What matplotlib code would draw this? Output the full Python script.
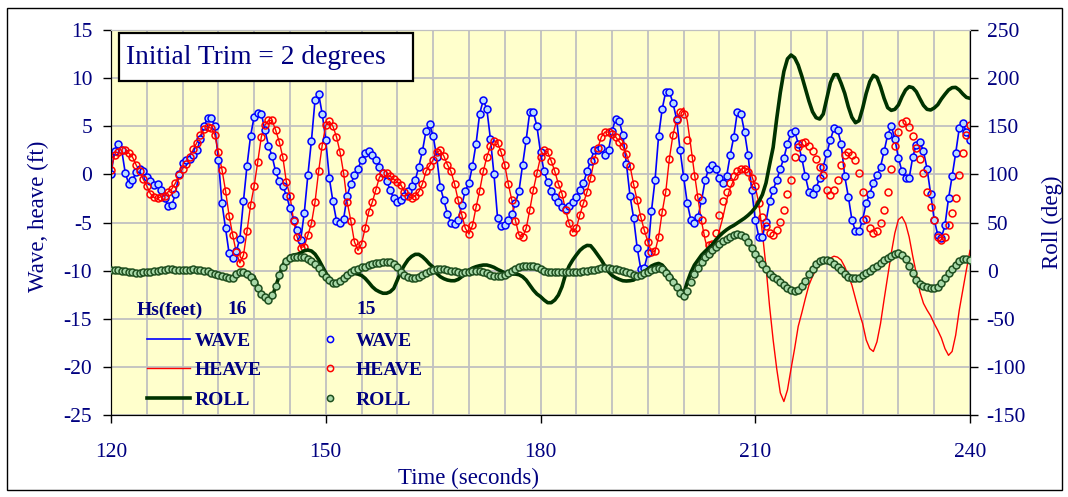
import matplotlib
matplotlib.use("Agg")
import matplotlib.pyplot as plt
import numpy as np
from matplotlib.lines import Line2D
from matplotlib.patches import Rectangle

plt.rcParams['font.family'] = ['Liberation Serif', 'DejaVu Serif']
plt.rcParams['axes.unicode_minus'] = False

NAVY = '#000080'
W, H = 1068, 497

# sample times (s), one sample every 0.5 s
time = np.linspace(120, 240, 241)

# Hs = 15 ft (markers) -- wave and heave in ft, roll in deg
wave = [
    0.0, 2.4, 3.2, 2.5, 0.1, -1.0, -0.6, 0.2, 0.6, 0.4,
    -0.3, -0.7, -1.1, -1.0, -1.6, -2.5, -3.3, -3.2, -2.0, 0.0,
    1.2, 1.5, 1.6, 2.0, 2.5, 3.7, 5.0, 5.9, 5.9, 5.0,
    1.5, -3.0, -5.6, -8.2, -8.7, -8.0, -6.7, -2.8, 0.9, 4.0,
    6.0, 6.4, 6.3, 4.6, 3.0, 1.9, 0.3, -0.7, -1.2, -2.2,
    -3.5, -4.7, -5.8, -6.8, -4.0, -0.1, 3.5, 7.7, 8.4, 6.3,
    3.6, -0.4, -2.8, -4.8, -5.0, -4.6, -2.2, -1.0, -0.1, 0.6,
    1.5, 2.2, 2.4, 2.0, 1.5, 0.8, 0.1, -0.7, -1.6, -2.5,
    -2.9, -2.7, -2.2, -1.7, -1.2, -0.6, 0.8, 2.4, 4.5, 5.2,
    4.0, 1.8, -1.3, -2.7, -4.1, -5.1, -5.2, -4.7, -3.2, -1.7,
    -0.9, 0.9, 3.2, 6.3, 7.7, 6.8, 3.7, 0.0, -4.5, -5.4,
    -5.3, -4.7, -4.1, -3.0, -1.7, 1.0, 3.6, 6.5, 6.5, 5.0,
    2.3, 0.3, -0.8, -1.7, -2.4, -2.9, -3.4, -3.6, -3.3, -2.9,
    -2.3, -1.6, -0.9, 0.3, 1.4, 2.5, 2.5, 2.7, 2.0, 2.5,
    4.5, 5.8, 5.5, 4.1, 1.1, -2.2, -4.5, -7.6, -9.8, -9.7,
    -8.2, -3.8, -0.6, 4.0, 6.8, 8.6, 8.6, 7.4, 5.8, 2.5,
    -0.3, -3.0, -4.7, -5.1, -4.4, -2.7, -0.6, 0.6, 1.0, 0.6,
    -0.4, -0.9, -0.2, 2.0, 3.9, 6.5, 6.3, 4.4, 2.0, -1.6,
    -4.7, -6.5, -6.5, -4.9, -2.8, -1.6, -0.6, 0.6, 1.7, 3.2,
    4.3, 4.5, 3.2, 1.7, -0.2, -1.8, -2.0, -1.4, -0.4, 0.8,
    2.2, 3.6, 4.8, 4.6, 3.2, -0.2, -2.3, -4.7, -5.9, -5.9,
    -4.7, -3.0, -2.0, -0.9, -0.1, 0.8, 2.4, 4.1, 5.0, 3.7,
    1.7, 0.3, -0.4, -0.4, 1.8, 3.1, 3.4, 2.4, 0.6, -2.0,
    -4.7, -6.3, -6.6, -5.3, -2.5, -0.2, 2.2, 4.8, 5.3, 4.4,
    3.6]

heave15 = [
    0.5, 2.0, 2.3, 2.5, 2.5, 2.2, 1.8, 1.0, 0.3, -0.5,
    -1.2, -2.0, -2.4, -2.5, -2.3, -2.2, -1.8, -1.5, -0.9, -0.1,
    0.6, 1.1, 1.8, 2.6, 3.3, 4.1, 4.7, 4.9, 4.8, 4.1,
    2.3, 0.5, -1.7, -4.3, -6.3, -8.1, -9.2, -8.4, -5.9, -3.2,
    -1.2, 1.3, 3.9, 5.1, 5.6, 5.6, 4.6, 3.4, 1.8, -0.8,
    -2.2, -4.8, -6.5, -7.6, -7.5, -6.3, -5.1, -2.9, 0.3, 3.0,
    5.1, 5.5, 5.0, 3.9, 2.3, 0.1, -2.9, -4.8, -7.0, -7.9,
    -7.2, -5.6, -3.9, -2.9, -1.6, -0.3, 0.1, 0.1, -0.2, -0.5,
    -0.8, -1.1, -1.8, -2.2, -2.5, -2.2, -1.8, -1.0, 0.3, 0.9,
    1.5, 2.3, 2.5, 1.9, 1.0, 0.3, -1.0, -2.7, -4.2, -5.6,
    -6.2, -5.3, -3.4, -1.7, 0.3, 1.8, 2.9, 3.5, 3.3, 2.3,
    1.0, -1.0, -2.7, -4.8, -6.3, -6.5, -5.6, -3.7, -1.6, 0.1,
    1.8, 2.5, 2.3, 1.4, 0.3, -1.0, -2.0, -3.7, -5.1, -6.0,
    -5.6, -4.2, -3.0, -1.8, -0.4, 1.5, 2.7, 3.9, 4.4, 4.4,
    4.2, 3.9, 3.4, 2.9, 2.1, 0.9, -1.0, -2.7, -4.4, -5.8,
    -7.0, -8.1, -8.0, -6.5, -3.9, -1.8, 1.6, 4.1, 5.6, 6.5,
    6.3, 3.6, 1.7, -0.2, -2.3, -4.7, -6.1, -7.3, -7.2, -6.1,
    -4.2, -2.8, -1.8, -0.9, -0.2, 0.4, 0.6, 0.6, 0.2, -0.4,
    -1.2, -3.0, -4.4, -5.4, -6.1, -6.3, -5.8, -4.9, -3.7, -2.0,
    -0.6, 1.8, 2.8, 3.3, 3.4, 3.0, 2.4, 1.6, 0.8, -0.1,
    -1.6, -2.1, -1.6, -0.6, 1.0, 2.0, 2.3, 2.0, 1.5, 0.1,
    -1.8, -4.6, -5.6, -6.1, -5.9, -5.0, -3.7, -1.8, 0.6, 2.9,
    4.4, 5.3, 5.5, 4.9, 4.0, 2.7, 1.6, 0.1, -1.8, -3.4,
    -4.7, -6.5, -6.8, -6.5, -5.3, -4.0, -2.5, -0.1, 2.2, 4.1,
    5.1]

roll15 = [
    0.5, 0.5, 0.3, 0.0, -0.3, -1.0, -1.5, -2.0, -2.0, -1.8,
    -1.5, -1.0, -0.5, 0.0, 0.5, 1.0, 1.2, 1.2, 1.0, 0.5,
    0.3, 0.6, 1.0, 1.2, 1.0, 0.5, 0.0, -0.8, -2.0, -3.5,
    -4.8, -6.0, -6.3, -8.0, -7.5, -4.0, -1.5, -1.0, -3.0, -7.0,
    -12.0, -18.4, -24.0, -27.8, -30.5, -25.4, -16.0, -4.6, 4.1, 9.6,
    12.7, 13.8, 14.5, 14.5, 13.8, 12.4, 9.6, 6.5, 3.0, -2.2,
    -6.3, -9.8, -13.2, -13.2, -11.2, -7.7, -4.3, -1.1, 0.6, 1.7,
    3.4, 4.1, 5.5, 6.8, 7.5, 8.2, 8.9, 9.3, 8.9, 7.2,
    4.1, -1.1, -4.6, -6.3, -7.4, -7.7, -6.3, -4.6, -2.5, -0.8,
    0.3, 1.3, 1.3, 1.3, 0.6, -0.1, -0.8, -1.5, -2.2, -1.8,
    -1.1, -0.4, -0.1, -0.4, -1.5, -2.9, -4.3, -5.3, -6.0, -6.0,
    -4.6, -2.5, -0.1, 2.0, 3.7, 4.8, 5.1, 5.1, 4.4, 3.4,
    1.3, -0.4, -1.5, -1.8, -1.8, -1.8, -1.8, -1.8, -1.8, -1.5,
    -1.5, -1.1, -0.8, -0.4, 0.3, 1.0, 1.7, 2.4, 2.4, 2.4,
    2.0, 1.3, 0.3, -0.4, -1.5, -2.9, -4.6, -5.3, -4.3, -2.9,
    -1.1, 0.6, 2.0, 3.0, 1.3, -2.2, -6.3, -11.5, -17.4, -22.9,
    -26.5, -20.8, -11.5, -3.5, 3.0, 8.6, 14.1, 17.6, 21.4, 24.5,
    27.3, 30.4, 33.2, 35.3, 37.0, 37.7, 37.0, 34.6, 29.7, 23.2,
    17.6, 12.1, 7.2, 1.3, -3.2, -6.6, -9.1, -12.2, -15.3, -18.1,
    -19.8, -20.8, -19.8, -16.0, -10.4, -3.9, 1.3, 6.5, 9.6, 11.0,
    11.0, 10.0, 7.2, 3.8, 0.6, -3.2, -6.3, -8.0, -8.0, -7.3,
    -4.9, -2.8, -0.4, 2.4, 5.1, 7.9, 10.7, 13.1, 15.5, 17.6,
    18.0, 15.9, 12.0, 5.0, -2.0, -9.7, -13.6, -16.0, -17.4, -18.4,
    -18.1, -16.7, -12.9, -7.7, -2.8, 1.7, 6.2, 10.3, 12.1, 11.7,
    11.0]

# Hs = 16 ft (lines): heave from t = 200 s on, roll from t = 140 s on
# (before that the two runs are on top of each other)
heave16_tail = [
    6.9, 5.6, 2.9, 0.1, -2.5, -4.9, -6.8, -8.2, -8.5, -7.2,
    -5.8, -4.4, -2.7, -1.4, -0.6, 0.1, 0.5, 0.7, 0.5, -0.1,
    -1.3, -3.0, -6.1, -9.6, -13.7, -17.2, -20.2, -22.7, -23.6, -22.4,
    -20.2, -18.1, -15.8, -14.4, -12.9, -11.5, -10.6, -9.9, -9.2, -8.7,
    -8.8, -8.7, -8.5, -8.6, -8.9, -9.6, -10.5, -11.5, -12.9, -14.3,
    -15.5, -17.2, -18.1, -18.4, -17.4, -15.5, -13.0, -10.6, -8.2, -6.1,
    -4.7, -4.4, -5.1, -6.5, -8.5, -10.3, -12.2, -13.4, -14.1, -14.7,
    -15.5, -16.2, -17.0, -18.1, -18.8, -18.4, -16.7, -14.1, -12.0, -9.9,
    -7.9]

roll16_tail = [
    -6.3, -16.7, -23.6, -27.8, -30.5, -27.8, -16.7, -5.3, 5.8, 11.0,
    15.2, 16.2, 16.9, 18.3, 20.7, 21.4, 20.4, 17.2, 11.7, 4.8,
    -2.2, -9.1, -13.2, -13.2, -10.5, -7.0, -3.6, -2.9, -2.9, -3.6,
    -5.0, -8.0, -12.2, -16.7, -20.0, -22.0, -23.5, -23.5, -22.0, -18.5,
    -9.8, -0.8, 5.8, 11.3, 14.8, 16.9, 16.9, 14.5, 11.0, 6.8,
    3.7, -2.9, -6.3, -8.4, -9.8, -10.5, -10.5, -9.1, -6.3, -2.9,
    0.6, 2.7, 4.1, 5.1, 5.8, 5.8, 4.8, 3.4, 1.3, -0.4,
    -2.2, -3.2, -3.6, -3.6, -4.3, -6.3, -9.8, -15.0, -20.2, -24.3,
    -27.0, -30.5, -33.3, -33.3, -30.5, -25.4, -16.7, -4.0, 4.8, 11.0,
    16.2, 21.0, 24.2, 26.2, 25.9, 21.4, 16.2, 11.0, 4.8, -1.1,
    -5.0, -7.4, -9.1, -10.5, -10.8, -10.5, -9.8, -7.0, -3.6, -0.8,
    1.7, 4.8, 6.5, 7.5, 5.8, 1.3, -3.6, -9.1, -15.0, -19.1,
    -24.0, -12.0, -2.0, 5.8, 11.0, 16.2, 20.0, 23.5, 27.0, 32.0,
    36.0, 39.5, 42.5, 45.0, 47.0, 49.5, 52.0, 54.5, 57.5, 61.0,
    65.5, 71.6, 79.0, 91.0, 110.0, 128.0, 158.0, 185.0, 207.0, 220.0,
    224.0, 221.2, 213.6, 202.2, 189.4, 176.2, 165.1, 158.9, 157.5, 162.7,
    179.0, 195.3, 203.6, 203.6, 194.6, 184.2, 170.3, 159.3, 153.7, 155.8,
    168.6, 184.2, 196.3, 202.9, 200.8, 191.1, 179.0, 169.3, 166.5, 167.6,
    172.1, 180.7, 187.7, 191.1, 190.1, 185.9, 178.6, 171.7, 167.6, 166.9,
    169.0, 172.4, 178.3, 183.2, 187.7, 190.1, 190.4, 187.7, 183.5, 180.0,
    179.0]

heave16 = heave15[:160] + heave16_tail
roll16 = roll15[:40] + roll16_tail

fig = plt.figure(figsize=(W / 100, H / 100), dpi=100)
ax1 = fig.add_axes([111 / W, 1 - 415 / H, (970 - 111) / W, (415 - 30) / H])
ax1.set_facecolor('#FFFFCC')
ax2 = ax1.twinx()

# Hs = 16 lines
ax1.plot(time, wave, color='#0000FF', lw=1.2, zorder=2)
ax1.plot(time, heave16, color='#FF0000', lw=1.0, zorder=2)
ax2.plot(time, roll16, color='#003300', lw=2.6, zorder=2)

# Hs = 15 markers
ax1.plot(time, wave, ls='none', marker='o', ms=5, mew=1.1,
         mec='#0000FF', mfc='#B8DDFF', zorder=3)
ax1.plot(time, heave15, ls='none', marker='o', ms=5, mew=1.1,
         mec='#FF0000', mfc='none', zorder=3)
ax2.plot(time, roll15, ls='none', marker='o', ms=5, mew=1.1,
         mec='#1F4F1F', mfc='#A8D8A8', zorder=3)

ax1.set_xlim(120, 240)
ax1.set_ylim(-25, 15)
ax2.set_ylim(-150, 250)
ax1.set_xticks([120, 150, 180, 210, 240])
ax1.set_xticks(np.arange(120, 241, 5), minor=True)
ax1.set_yticks(np.arange(-25, 16, 5))
ax2.set_yticks(np.arange(-150, 251, 50))

ax1.grid(True, which='both', axis='x', color='#C0C0C0', lw=1.3)
ax1.grid(True, which='major', axis='y', color='#C0C0C0', lw=1.3)
ax1.set_axisbelow(True)

ax1.tick_params(axis='x', which='minor', length=0)
ax1.tick_params(axis='x', which='major', direction='out', length=6, width=1,
                pad=14, labelsize=15.5, labelcolor=NAVY)
ax1.tick_params(axis='y', direction='out', length=6, width=1, pad=7.5,
                labelsize=15.5, labelcolor=NAVY)
ax2.tick_params(axis='y', direction='out', length=6, width=1, pad=6,
                labelsize=15.5, labelcolor=NAVY)

for ax in (ax1, ax2):
    ax.spines['top'].set_color('#C0C0C0')
    ax.spines['left'].set_color('black')
    ax.spines['right'].set_color('black')
    ax.spines['bottom'].set_color('black')

# axis titles
fig.text(38 / W, 1 - 216 / H, 'Wave, heave (ft)', fontsize=16.5, color=NAVY,
         rotation=90, ha='center', va='center')
fig.text(1052 / W, 1 - 222 / H, 'Roll (deg)', fontsize=16.5, color=NAVY,
         rotation=90, ha='center', va='center')
fig.text(469 / W, 1 - 478 / H, 'Time (seconds)', fontsize=16.5, color=NAVY,
         ha='center', va='center')

# title box
fig.add_artist(Rectangle((119 / W, 1 - 81 / H), (413 - 119) / W, (81 - 33) / H,
                         transform=fig.transFigure, facecolor='white',
                         edgecolor='black', lw=1.6, zorder=10))
fig.text(126 / W, 1 - 57 / H, 'Initial Trim = 2 degrees', fontsize=19.8,
         color=NAVY, ha='left', va='center', zorder=11)

# legend
bold = dict(fontsize=14, color=NAVY, fontweight='bold', va='center',
            ha='center', zorder=11)
fig.text(170 / W, 1 - 310 / H, 'Hs(feet)', **bold)
fig.text(237 / W, 1 - 310 / H, '16', **bold)
fig.text(366 / W, 1 - 310 / H, '15', **bold)

handles = [
    Line2D([], [], color='#0000FF', lw=1.2),
    Line2D([], [], color='#FF0000', lw=1.0),
    Line2D([], [], color='#003300', lw=2.6),
    Line2D([], [], ls='none', marker='o', ms=4.5, mew=1.1,
           mec='#0000FF', mfc='none'),
    Line2D([], [], ls='none', marker='o', ms=4.5, mew=1.1,
           mec='#FF0000', mfc='none'),
    Line2D([], [], ls='none', marker='o', ms=4.5, mew=1.1,
           mec='#1F4F1F', mfc='#A8D8A8'),
]
labels = ['WAVE', 'HEAVE', 'ROLL', 'WAVE', 'HEAVE', 'ROLL']
leg = fig.legend(handles, labels, ncol=2, loc='upper left',
                 bbox_to_anchor=(147 / W, 1 - 332 / H), frameon=False,
                 borderpad=0, borderaxespad=0, handlelength=2.2,
                 handletextpad=0.25, columnspacing=2.4, labelspacing=0.62,
                 prop={'family': 'Liberation Serif', 'size': 14,
                       'weight': 'bold'})
for txt in leg.get_texts():
    txt.set_color(NAVY)

# outer chart frame
fig.add_artist(Rectangle((7 / W, 1 - 490 / H), (1062 - 7) / W, (490 - 8) / H,
                         transform=fig.transFigure, fill=False,
                         edgecolor='black', lw=1.0, zorder=12))

fig.savefig('out.png', dpi=100, facecolor='white')
